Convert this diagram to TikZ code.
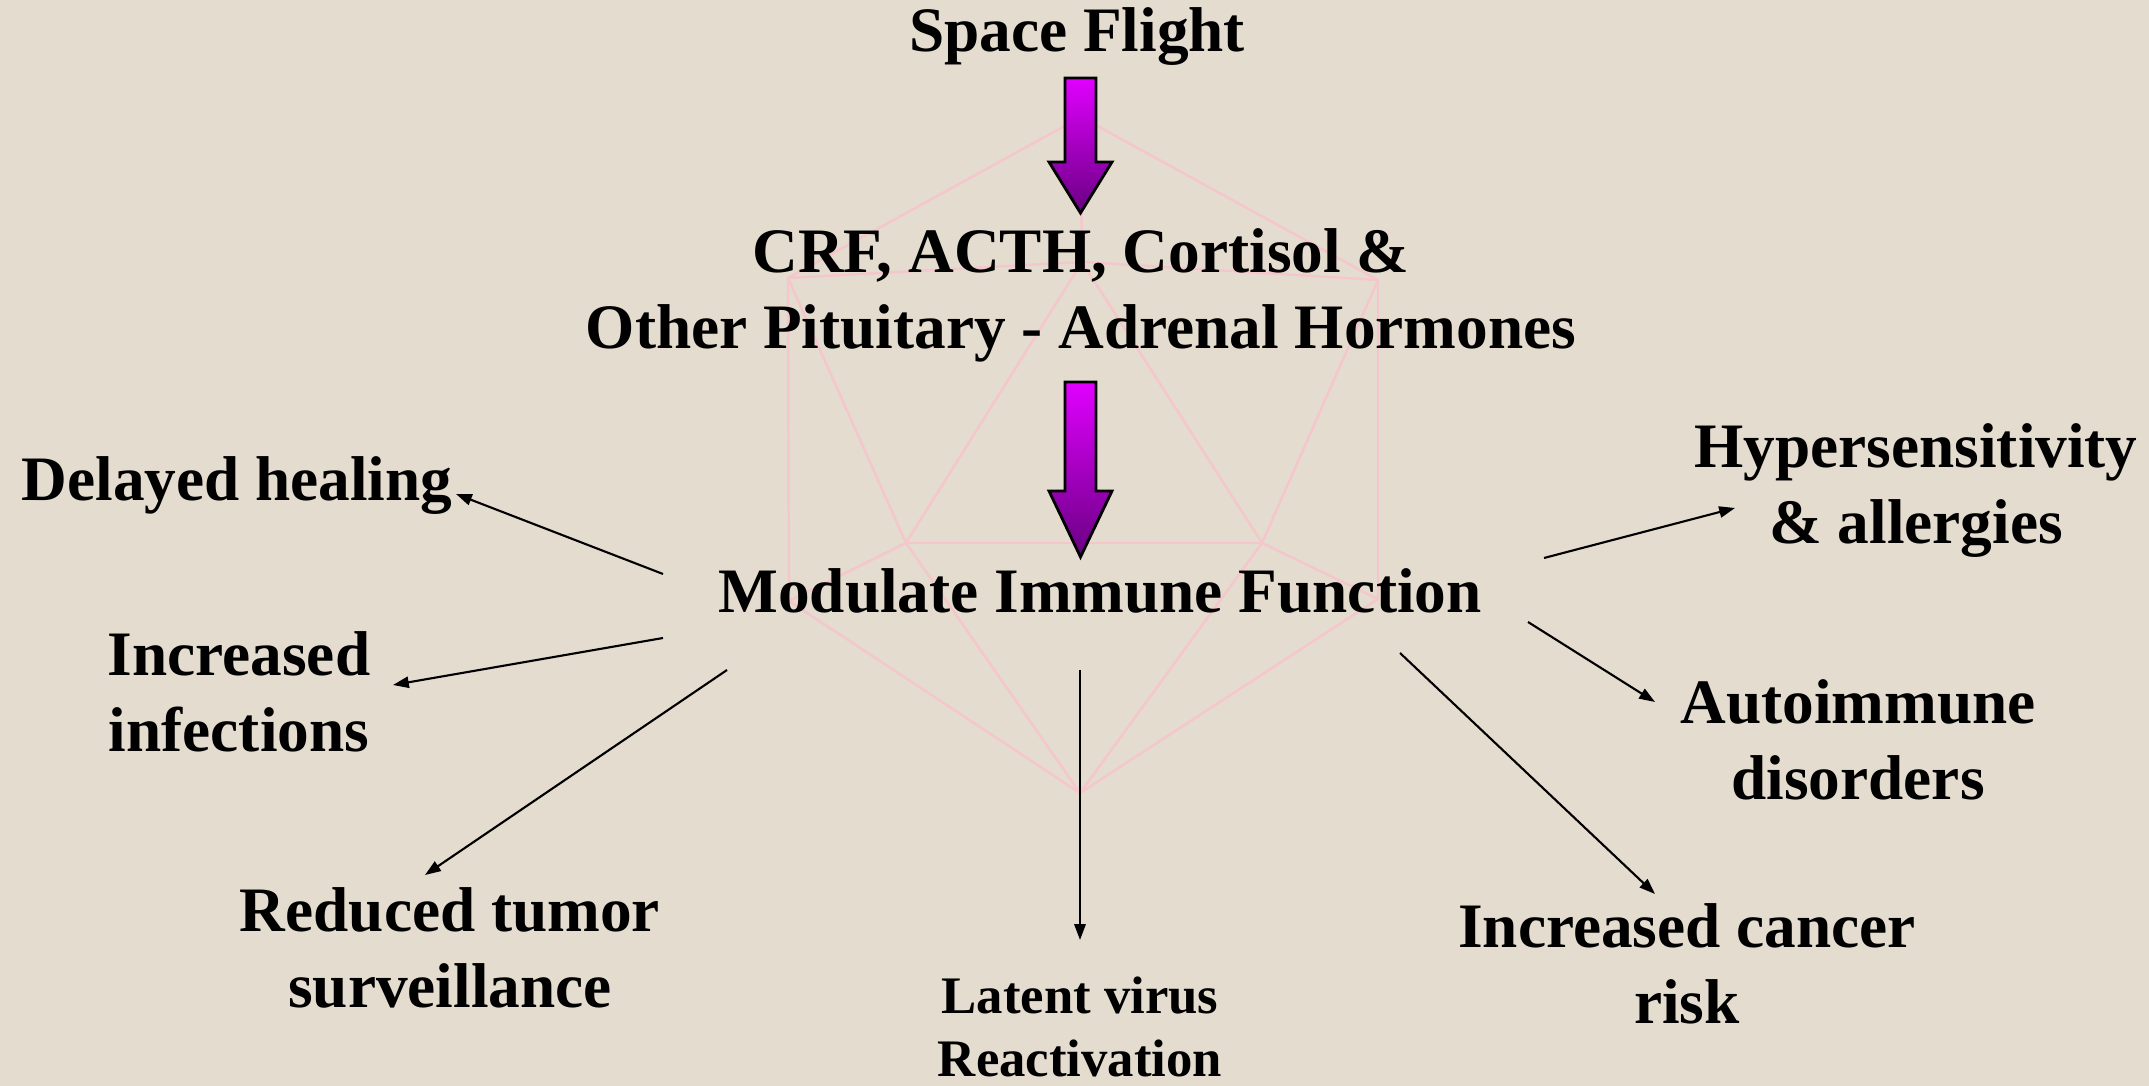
\documentclass[tikz,border=0pt]{standalone}
\usepackage{fontspec}
\setmainfont{Liberation Serif}
\usepackage{tikz}
\usetikzlibrary{arrows.meta}

\definecolor{paper}{RGB}{228,220,206}
\definecolor{wmpink}{RGB}{245,198,204}
\definecolor{magtop}{RGB}{225,0,255}
\definecolor{magbot}{RGB}{105,0,130}

\tikzset{
  lbl/.style={font=\bfseries\fontsize{18}{21.6}\selectfont,align=center,inner sep=0pt},
  smalllbl/.style={lbl,font=\bfseries\fontsize{15}{18}\selectfont},
  fx/.style={line width=0.6pt,-{Triangle[length=4.5pt,width=3.2pt]}},
  bigarrow/.style={draw=black,line width=0.8pt,top color=magtop,bottom color=magbot},
  wm/.style={draw=wmpink,line width=0.7pt}
}

% block arrow: start point, shaft length, head length
\newcommand{\purplearrow}[3]{%
  \shade[bigarrow] (#1) ++(-15.5,0) -- ++(31,0) -- ++(0,#2) -- ++(16,0)
    -- ++(-31.5,#3) -- ++(-31.5,-#3) -- ++(16,0) -- cycle;}

\begin{document}
\begin{tikzpicture}[x=0.01cm,y=-0.01cm]
\useasboundingbox (0,0) rectangle (2149,1086);
\fill[paper] (0,0) rectangle (2149,1086);

% faint icosahedron in the background
\coordinate (ico-t) at (1081,117);
\coordinate (ico-ul) at (788,278);
\coordinate (ico-um) at (1082,262);
\coordinate (ico-ur) at (1378,280);
\coordinate (ico-ml) at (906,543);
\coordinate (ico-mr) at (1262,543);
\coordinate (ico-ll) at (789,601);
\coordinate (ico-lr) at (1378,599);
\coordinate (ico-b) at (1080,793);
\foreach \a/\b in {t/ul,t/ur,t/um,ul/um,um/ur,ul/ll,ur/lr,ul/ml,um/ml,um/mr,ur/mr,ml/mr,ml/ll,mr/lr,ll/b,ml/b,mr/b,lr/b}
  \draw[wm] (ico-\a) -- (ico-\b);

% labels
\node[lbl,anchor=base] (sf) at (1077,52) {Space Flight};
\node[lbl] (hrm) at (1081,295) {CRF, ACTH, Cortisol \&\\Other Pituitary - Adrenal Hormones};
\node[lbl,anchor=base] (mif) at (1100,613) {Modulate Immune Function};
\node[lbl,anchor=base] (dh) at (237,501) {Delayed healing};
\node[lbl] (ii) at (239,692) {Increased\\infections};
\node[lbl] (rts) at (450,948) {Reduced tumor\\surveillance};
\node[smalllbl] (lvr) at (1080,1027) {Latent virus\\Reactivation};
\node[lbl] (hyp) at (1916,491) {Hypersensitivity\\\& allergies};
\node[lbl] (aid) at (1858,740) {Autoimmune\\disorders};
\node[lbl] (icr) at (1687,964) {Increased cancer\\risk};

% big arrows
\coordinate (a1) at (1080.5,78);
\coordinate (a2) at (1080.5,382);
\purplearrow{a1}{84}{51}
\purplearrow{a2}{109}{66}

% effects
\coordinate (dh-from) at (663,574);   \coordinate (dh-to) at (456,494);
\coordinate (ii-from) at (663,638);   \coordinate (ii-to) at (393,685);
\coordinate (rts-from) at (727,670);  \coordinate (rts-to) at (425,875);
\coordinate (lvr-from) at (1080,670); \coordinate (lvr-to) at (1080,940);
\coordinate (icr-from) at (1400,653); \coordinate (icr-to) at (1655,894);
\coordinate (aid-from) at (1528,622); \coordinate (aid-to) at (1655,702);
\coordinate (hyp-from) at (1544,558); \coordinate (hyp-to) at (1735,508);
\foreach \n in {dh,ii,rts,lvr,icr,aid,hyp}
  \draw[fx] (\n-from) -- (\n-to);
\end{tikzpicture}
\end{document}
